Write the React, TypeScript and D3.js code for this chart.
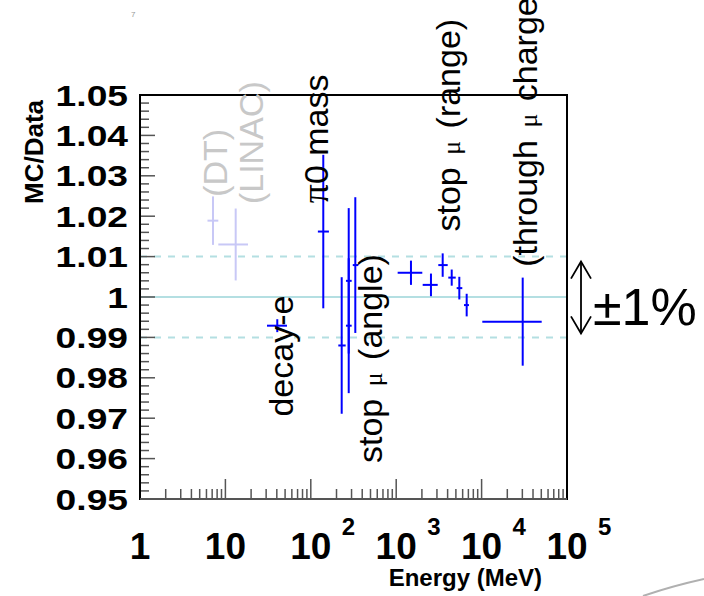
import React, { useRef, useEffect } from 'react';
import * as d3 from 'd3';

// blue points: energy centre, energy range, MC/Data ratio, error
const pointE = [40.5, 140, 230, 278, 278, 332, 1489, 2553, 3502, 4467, 5483, 6688, 30290];
const pointELo = [30.7, 121, 210, 258, 258, 310, 1040, 2042, 3112, 4074, 5105, 6223, 10190];
const pointEHi = [52.6, 163, 256, 301, 301, 360, 2021, 3062, 4009, 4977, 5943, 7112, 50550];
const pointRatio = [0.9929, 1.0162, 0.988, 1.004, 0.9929, 1.0079, 1.006, 1.003, 1.0079, 1.0048, 1.0022, 0.998, 0.9939];
const pointErr = [0.0016, 0.019, 0.0169, 0.018, 0.0167, 0.0168, 0.003, 0.0028, 0.0029, 0.002, 0.0028, 0.0028, 0.0109];

// faded points (DT, LINAC)
const fadedE = [7.16, 13.2];
const fadedELo = [6.17, 8.26];
const fadedEHi = [8.26, 18.4];
const fadedRatio = [1.0189, 1.013];
const fadedErr = [0.006, 0.0089];

// rotated annotations: text, anchor energy / ratio (start of text), faded or not
const labelText = ['(DT)', '(LINAC)', 'decay-e', 'π0 mass', 'stop μ (angle)', 'stop μ (range)', '(through μ charge)'];
const labelE = [10.36, 27.5, 61.9, 159, 682, 5585, 44200];
const labelRatio = [1.0248, 1.023, 0.9704, 1.0232, 0.9589, 1.0162, 1.0075];
const labelFaded = [true, true, false, false, false, false, false];

const yTickValues = [0.95, 0.96, 0.97, 0.98, 0.99, 1, 1.01, 1.02, 1.03, 1.04, 1.05];
const yTickLabels = ['0.95', '0.96', '0.97', '0.98', '0.99', '1', '1.01', '1.02', '1.03', '1.04', '1.05'];
const xTickValues = [1, 10, 100, 1000, 10000, 100000];
const xTickBase = ['1', '10', '10', '10', '10', '10'];
const xTickExp = ['', '', '2', '3', '4', '5'];
const refLines = [0.99, 1, 1.01];

const App = () => {
  const svgRef = useRef<SVGSVGElement>(null);

  useEffect(() => {
    if (!svgRef.current) return;
    const W = 704, H = 596;
    const margin = { top: 95, right: 137, bottom: 97, left: 140 };
    const svg = d3.select(svgRef.current);
    svg.selectAll('*').remove();

    const x = d3.scaleLog().domain([1, 1e5]).range([margin.left, W - margin.right]);
    const y = d3.scaleLinear().domain([0.95, 1.05]).range([H - margin.bottom, margin.top]);
    const x0 = margin.left, x1 = W - margin.right, y0 = H - margin.bottom, y1 = margin.top;
    const boldFont = '"Liberation Sans", Arial, sans-serif';

    svg.append('rect').attr('width', W).attr('height', H).attr('fill', '#fff');

    // small page number
    svg.append('text').attr('x', 131).attr('y', 17).attr('font-size', 8)
      .attr('font-family', boldFont).attr('fill', '#999').text('7');

    // slide decoration arc
    svg.append('path').attr('d', 'M 643 596 Q 672 586 704 579')
      .attr('fill', 'none').attr('stroke', '#b0b0b0').attr('stroke-width', 2);

    // reference lines at 1 and +-1%
    svg.append('g').selectAll('line').data(refLines).join('line')
      .attr('x1', x0).attr('x2', x1)
      .attr('y1', d => y(d)).attr('y2', d => y(d))
      .attr('stroke', '#b4dfe2').attr('stroke-width', 2)
      .attr('stroke-dasharray', d => (d === 1 ? null : '7,7'));

    // y ticks
    const yMinor = d3.range(0, 51).map(i => 0.95 + i * 0.002).filter((_, i) => i % 5 !== 0);
    const ticks = svg.append('g').attr('stroke', '#555').attr('stroke-width', 1.5);
    ticks.selectAll('line.ymaj').data(yTickValues).join('line').attr('class', 'ymaj')
      .attr('x1', x0).attr('x2', x0 + 15).attr('y1', d => y(d)).attr('y2', d => y(d));
    ticks.selectAll('line.ymin').data(yMinor).join('line').attr('class', 'ymin')
      .attr('x1', x0).attr('x2', x0 + 9).attr('y1', d => y(d)).attr('y2', d => y(d));

    // x ticks
    const xMinor: number[] = [];
    for (let k = 0; k < 5; k++) for (let m = 2; m <= 9; m++) xMinor.push(m * Math.pow(10, k));
    ticks.selectAll('line.xmaj').data(xTickValues).join('line').attr('class', 'xmaj')
      .attr('x1', d => x(d)).attr('x2', d => x(d)).attr('y1', y0).attr('y2', y0 - 20);
    ticks.selectAll('line.xmin').data(xMinor).join('line').attr('class', 'xmin')
      .attr('x1', d => x(d)).attr('x2', d => x(d)).attr('y1', y0).attr('y2', y0 - 10);

    // frame
    svg.append('rect').attr('x', x0).attr('y', y1).attr('width', x1 - x0).attr('height', y0 - y1)
      .attr('fill', 'none').attr('stroke', '#000').attr('stroke-width', 2);
    svg.append('line').attr('x1', x0).attr('x2', x1).attr('y1', y0).attr('y2', y0)
      .attr('stroke', '#555').attr('stroke-width', 2);

    // y tick labels (wide bold digits)
    svg.append('g').selectAll('g').data(yTickValues).join('g')
      .attr('transform', d => `translate(128,${y(d) + 10.5})`)
      .append('text')
      .attr('transform', 'scale(1.24,1)')
      .attr('text-anchor', 'end').attr('font-family', boldFont).attr('font-weight', 'bold')
      .attr('font-size', 30).attr('fill', '#000')
      .text((_, i) => yTickLabels[i]);

    // x tick labels with exponents
    const xl = svg.append('g').attr('font-family', boldFont).attr('font-weight', 'bold').attr('fill', '#000');
    xTickValues.forEach((v, i) => {
      xl.append('text').attr('x', x(v)).attr('y', 559).attr('text-anchor', 'middle')
        .attr('font-size', 37).text(xTickBase[i]);
      if (xTickExp[i]) {
        xl.append('text').attr('x', x(v) + 31).attr('y', 535).attr('font-size', 24).text(xTickExp[i]);
      }
    });

    // axis titles
    svg.append('text').attr('x', 542).attr('y', 586).attr('text-anchor', 'end')
      .attr('font-family', boldFont).attr('font-weight', 'bold').attr('font-size', 24)
      .text('Energy (MeV)');
    svg.append('text').attr('transform', 'translate(43,100) rotate(-90)').attr('text-anchor', 'end')
      .attr('font-family', boldFont).attr('font-weight', 'bold').attr('font-size', 26)
      .text('MC/Data');

    // error bars
    const drawErrors = (E: number[], lo: number[], hi: number[], r: number[], err: number[], color: string) => {
      const g = svg.append('g').attr('stroke', color).attr('stroke-width', 2);
      g.selectAll('line.v').data(E).join('line').attr('class', 'v')
        .attr('x1', d => x(d)).attr('x2', d => x(d))
        .attr('y1', (_, i) => y(r[i] + err[i])).attr('y2', (_, i) => y(r[i] - err[i]));
      g.selectAll('line.h').data(E).join('line').attr('class', 'h')
        .attr('x1', (_, i) => x(lo[i])).attr('x2', (_, i) => x(hi[i]))
        .attr('y1', (_, i) => y(r[i])).attr('y2', (_, i) => y(r[i]));
    };
    drawErrors(fadedE, fadedELo, fadedEHi, fadedRatio, fadedErr, '#c8c8f6');
    drawErrors(pointE, pointELo, pointEHi, pointRatio, pointErr, '#0000ff');

    // rotated annotations
    const lab = svg.append('g').attr('font-family', '"Liberation Sans", Arial, sans-serif').attr('font-size', 34);
    labelText.forEach((t, i) => {
      const txt = lab.append('text')
        .attr('transform', `translate(${x(labelE[i])},${y(labelRatio[i])}) rotate(-90)`)
        .attr('fill', labelFaded[i] ? '#c8c8c8' : '#000');
      const parts = t.split(/([μπ])/);
      let afterMu = false;
      parts.forEach(p => {
        if (p === 'μ') {
          txt.append('tspan').attr('dx', 3).attr('font-size', 26)
            .attr('font-family', '"Liberation Serif", serif').text('μ');
          afterMu = true;
        } else if (p === 'π') {
          txt.append('tspan').attr('font-size', 38).attr('font-family', '"Liberation Serif", serif').text('π');
        } else if (p) {
          txt.append('tspan').attr('dx', afterMu ? 3 : null).text(p);
          afterMu = false;
        }
      });
    });

    // +-1% arrow
    const ax = x1 + 14;
    const ya = y(1.01) + 5, yb = y(0.99) - 4;
    const arrow = svg.append('g').attr('stroke', '#000').attr('stroke-width', 1.8).attr('fill', 'none');
    arrow.append('line').attr('x1', ax).attr('x2', ax).attr('y1', ya).attr('y2', yb);
    arrow.append('path').attr('d', `M${ax - 10},${ya + 17} L${ax},${ya} L${ax + 10},${ya + 17}`);
    arrow.append('path').attr('d', `M${ax - 10},${yb - 17} L${ax},${yb} L${ax + 10},${yb - 17}`);
    svg.append('text').attr('x', x1 + 26).attr('y', y(1) + 28)
      .attr('font-family', '"Liberation Sans", Arial, sans-serif').attr('font-size', 52)
      .text('±1%');
  }, []);

  return (
    <svg ref={svgRef} width={704} height={596}
      style={{ position: 'absolute', left: 0, top: 0, background: '#fff' }} />
  );
};

export default App;
